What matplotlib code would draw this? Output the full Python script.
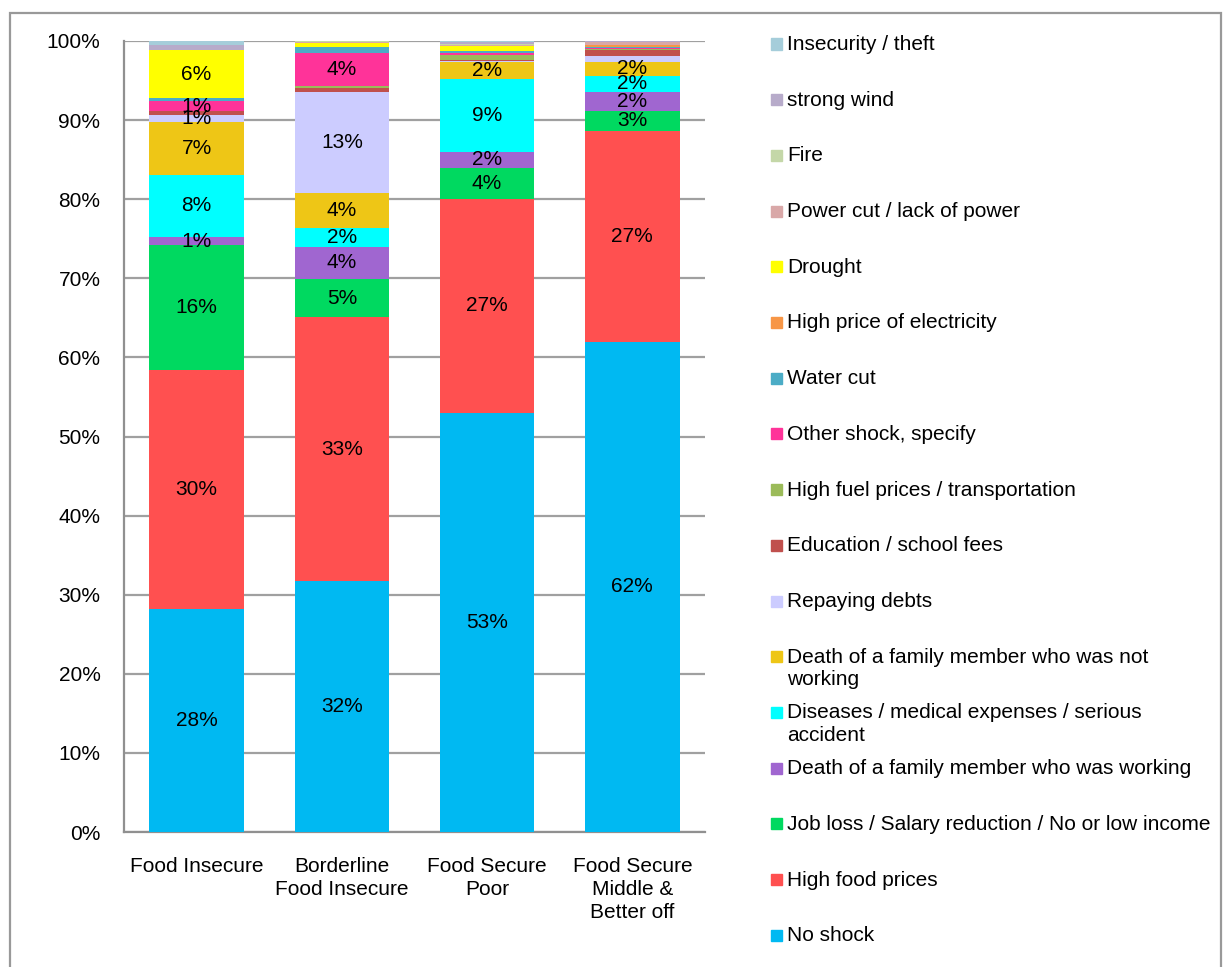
import matplotlib
matplotlib.use('Agg')
import matplotlib.pyplot as plt
from matplotlib.patches import Rectangle

plt.rcParams['font.family'] = ['Liberation Sans', 'DejaVu Sans']

groups = ['Food Insecure', 'Borderline\nFood Insecure', 'Food Secure\nPoor',
          'Food Secure\nMiddle &\nBetter off']

# shock categories, bottom of the stack first
shocks = ['No shock', 'High food prices',
          'Job loss / Salary reduction / No or low income',
          'Death of a family member who was working',
          'Diseases / medical expenses / serious\naccident',
          'Death of a family member who was not\nworking',
          'Repaying debts', 'Education / school fees',
          'High fuel prices / transportation', 'Other shock, specify',
          'Water cut', 'High price of electricity', 'Drought',
          'Power cut / lack of power', 'Fire', 'strong wind',
          'Insecurity / theft']

# percent of households, one list per shock (Food Insecure, Borderline, Secure Poor, Secure Middle)
no_shock = [28.2, 31.7, 53.0, 62.0]
high_food = [30.2, 33.4, 27.0, 26.6]
job_loss = [15.8, 4.8, 4.0, 2.6]
death_working = [1.0, 4.1, 2.0, 2.4]
diseases = [7.9, 2.4, 9.2, 2.0]
death_not_working = [6.7, 4.4, 2.1, 1.8]
repaying_debts = [0.8, 12.7, 0.2, 0.7]
education = [0.5, 0.6, 0.1, 0.7]
high_fuel = [0.0, 0.2, 0.6, 0.25]
other_shock = [1.3, 4.2, 0.3, 0.1]
water_cut = [0.4, 0.7, 0.2, 0.1]
electricity = [0.0, 0.1, 0.0, 0.2]
drought = [6.0, 0.5, 0.7, 0.1]
power_cut = [0.0, 0.1, 0.1, 0.3]
fire = [0.0, 0.2, 0.1, 0.0]
strong_wind = [0.7, 0.0, 0.3, 0.1]
insecurity = [0.5, 0.0, 0.2, 0.1]

series = [no_shock, high_food, job_loss, death_working, diseases, death_not_working,
          repaying_debts, education, high_fuel, other_shock, water_cut, electricity,
          drought, power_cut, fire, strong_wind, insecurity]

colors = ['#00B9F2', '#FF5050', '#00D960', '#A066D0', '#00FFFF', '#EEC616',
          '#CCCCFF', '#C0504D', '#9BBB59', '#FF3399', '#4BACC6', '#F79646',
          '#FFFF00', '#D9A8A8', '#C4D7A8', '#B7ABCA', '#A5CDDA']

W, H = 1224, 967
fs = 15
fig = plt.figure(figsize=(W / 100, H / 100), dpi=100)
ax = fig.add_axes([124 / W, 1 - 832 / H, 581 / W, 791 / H])

x = range(len(groups))
bottom = [0.0] * len(groups)
for vals, col in zip(series, colors):
    ax.bar(x, vals, width=0.65, bottom=bottom, color=col, zorder=3)
    for i, v in enumerate(vals):
        if v >= 0.75:
            ax.text(i, bottom[i] + v / 2, f'{v:.0f}%', ha='center', va='center',
                    fontsize=fs, zorder=4)
    bottom = [b + v for b, v in zip(bottom, vals)]

ax.set_xlim(-0.5, 3.5)
ax.set_ylim(0, 100)
ax.set_yticks(range(0, 101, 10))
ax.set_yticklabels([f'{t}%' for t in range(0, 101, 10)])
ax.set_xticks(list(x))
ax.set_xticklabels(groups, linespacing=1.28)
ax.tick_params(axis='y', length=0, pad=17, labelsize=fs)
ax.tick_params(axis='x', length=0, pad=18, labelsize=fs)
ax.yaxis.grid(True, color='#A0A0A0', linewidth=1.6, zorder=0)
for s in ['top', 'right']:
    ax.spines[s].set_visible(False)
for s in ['left', 'bottom']:
    ax.spines[s].set_color('#909090')
    ax.spines[s].set_linewidth(1.6)

# legend drawn by hand: top entry first, evenly spaced
y0, step = 44, 55.7
for k, (name, col) in enumerate(zip(shocks[::-1], colors[::-1])):
    yc = y0 + k * step
    fig.patches.append(Rectangle((771 / W, 1 - (yc + 5.5) / H), 11 / W, 11 / H,
                                 transform=fig.transFigure, color=col, figure=fig))
    fig.text(787 / W, 1 - (yc - 9) / H, name, ha='left', va='top', fontsize=fs,
             linespacing=1.25)

fig.patches.append(Rectangle((10 / W, -0.01), 1211 / W, 1 - 13 / H + 0.01,
                             transform=fig.transFigure, fill=False,
                             edgecolor='#999999', linewidth=1.6, figure=fig))

fig.savefig('out.png', dpi=100)
